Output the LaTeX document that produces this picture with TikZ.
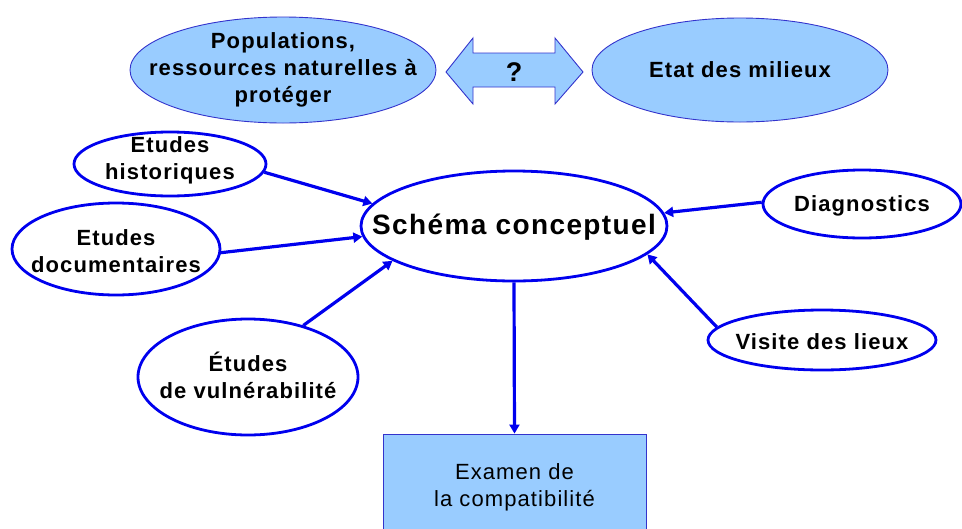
\documentclass[tikz,border=0pt]{standalone}
\usepackage{fontspec}
\setmainfont{Liberation Sans}[LetterSpace=5]
\usetikzlibrary{shapes.geometric,arrows.meta}
\definecolor{lblue}{HTML}{99CCFF}
\definecolor{edgeblue}{HTML}{3333CC}
\definecolor{pureblue}{HTML}{0000EE}
\begin{document}
\begin{tikzpicture}[x=1pt,y=-1pt,
  topell/.style={ellipse,draw=edgeblue,line width=0.9pt,fill=lblue,inner sep=0pt},
  ell/.style={ellipse,draw=pureblue,line width=2.8pt,fill=white,inner sep=0pt},
  txt/.style={align=center,inner sep=0pt,font=\fontsize{22}{27}\selectfont\bfseries},
  big/.style={align=center,inner sep=0pt,font=\fontsize{28}{32}\selectfont\bfseries},
  conn/.style={draw=pureblue,line width=3.2pt,-{Triangle[length=9pt,width=10pt]}},
  boxst/.style={rectangle,draw=edgeblue,line width=0.9pt,fill=lblue,inner sep=0pt}
]
\clip (0,0) rectangle (962,528);
\path[use as bounding box] (0,0) rectangle (962,528);

% top row
\node[topell,minimum width=306,minimum height=106] (pop) at (283,70) {};
\node[txt] (popt) at (283,70) {Populations,\\ressources naturelles à\\protéger};
\draw[edgeblue,line width=0.9pt,fill=lblue]
  (446,72) -- (473,38) -- (473,53) -- (555,53) -- (555,38) -- (583,72)
  -- (555,104) -- (555,87) -- (473,87) -- (473,104) -- cycle;
\node[inner sep=0pt,font=\fontsize{27}{30}\selectfont\bfseries] (q) at (514,72) {?};
\node[topell,minimum width=296,minimum height=104] (etat) at (740,70) {};
\node[txt] (etatt) at (740,70) {Etat des milieux};

% centre
\node[ell,minimum width=306,minimum height=110] (schema) at (514,226) {};
\node[big] (schemat) at (514,227) {Schéma conceptuel};

% left nodes
\node[ell,minimum width=192,minimum height=64] (hist) at (170,164) {};
\node[txt] (histt) at (170,160) {Etudes\\historiques};
\node[ell,minimum width=208,minimum height=92] (docs) at (116,249) {};
\node[txt] (docst) at (116,251) {Etudes\\documentaires};
\node[ell,minimum width=220,minimum height=116] (vuln) at (248,377) {};
\node[txt] (vulnt) at (248,375) {Études\\de vulnérabilité};

% right nodes
\node[ell,minimum width=198,minimum height=68] (diag) at (862,204) {};
\node[txt] (diagt) at (862,206) {Diagnostics};
\node[ell,minimum width=228,minimum height=60] (vis) at (822,340) {};
\node[txt] (vist) at (822,342) {Visite des lieux};

% bottom box
\node[boxst,minimum width=263,minimum height=106] (exam) at (514.5,487) {};
\node[align=center,inner sep=0pt,font=\fontsize{22}{27}\selectfont] (examt) at (514.5,487) {Examen de\\la compatibilité};

% connectors
\draw[conn] (hist.-5) -- (schema.171);
\draw[conn] (docs.-2) -- (schema.184);
\draw[conn] (vuln.43) -- (schema.196.6);
\draw[conn] (diag.179) -- (schema.5.7);
\draw[conn] (vis.173) -- (schema.-12.3);
\draw[conn] (schema.south) -- (exam.north);
\end{tikzpicture}
\end{document}
